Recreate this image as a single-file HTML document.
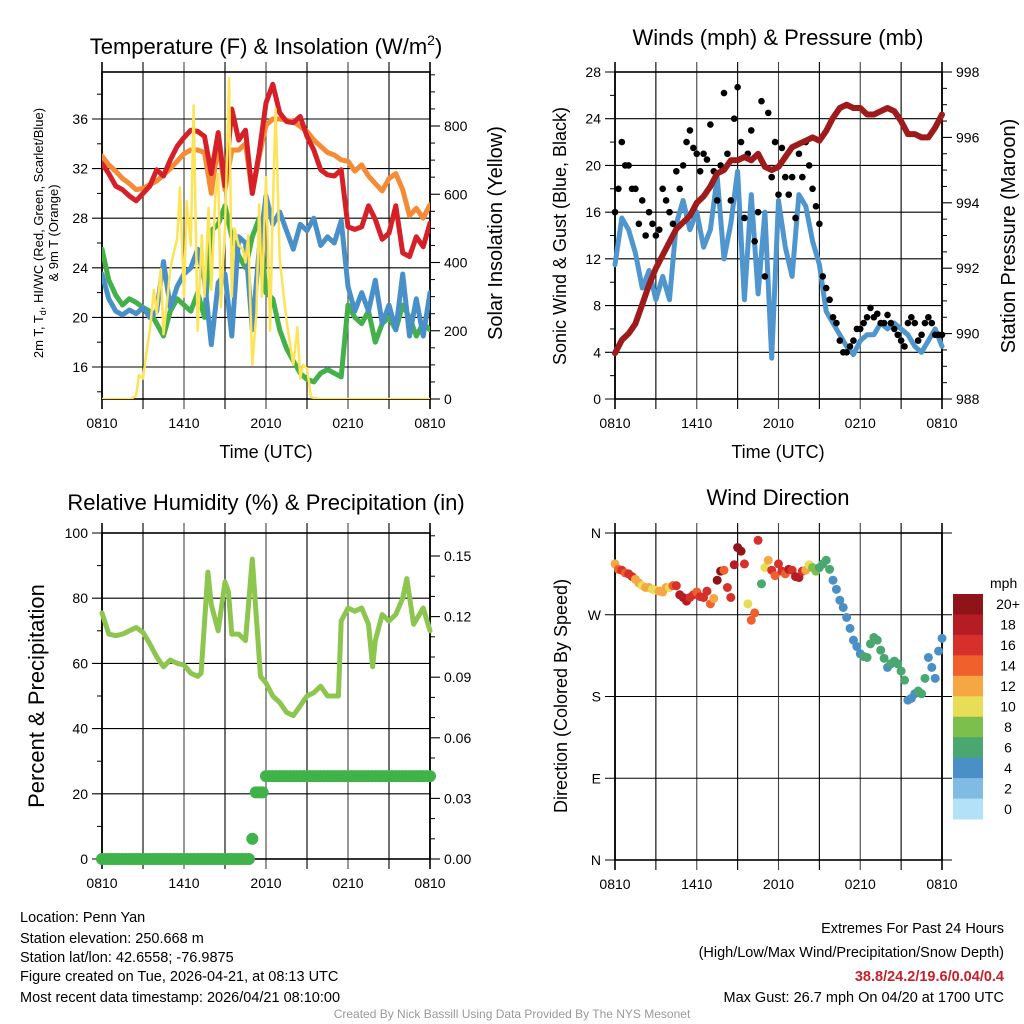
<!DOCTYPE html>
<html><head><meta charset="utf-8"><style>
html,body{margin:0;padding:0;background:#fff;}
svg{display:block;font-family:"Liberation Sans",Arial,sans-serif;}
</style></head><body>
<svg id="s" width="1024" height="1024" viewBox="0 0 1024 1024" xmlns="http://www.w3.org/2000/svg">
<rect width="1024" height="1024" fill="#fff"/>
<g font-size="22" text-anchor="middle" fill="#000">
<text x="266" y="54">Temperature (F) &amp; Insolation (W/m<tspan dy="-9" font-size="14">2</tspan><tspan dy="9">)</tspan></text>
<text x="778" y="45">Winds (mph) &amp; Pressure (mb)</text>
<text x="266" y="510">Relative Humidity (%) &amp; Precipitation (in)</text>
<text x="778" y="505">Wind Direction</text>
</g>
<g font-size="18" text-anchor="middle">
<text x="266" y="458">Time (UTC)</text>
<text x="778" y="458">Time (UTC)</text>
<text transform="translate(43,233) rotate(-90)" font-size="13">2m T, T<tspan font-size="9" dy="3">d</tspan><tspan dy="-3">, HI/WC (Red, Green, Scarlet/Blue)</tspan></text>
<text transform="translate(58,233) rotate(-90)" font-size="13">&amp; 9m T (Orange)</text>
<text transform="translate(502,233) rotate(-90)" font-size="20">Solar Insolation (Yellow)</text>
<text transform="translate(566,236) rotate(-90)" font-size="18">Sonic Wind &amp; Gust (Blue, Black)</text>
<text transform="translate(1015,236) rotate(-90)" font-size="20">Station Pressure (Maroon)</text>
<text transform="translate(44,696) rotate(-90)" font-size="22">Percent &amp; Precipitation</text>
<text transform="translate(567,696) rotate(-90)" font-size="18">Direction (Colored By Speed)</text>
</g>
<g font-size="14.5" fill="#000">
<text x="20" y="922">Location: Penn Yan</text>
<text x="20" y="943">Station elevation: 250.668 m</text>
<text x="20" y="962">Station lat/lon: 42.6558; -76.9875</text>
<text x="20" y="981">Figure created on Tue, 2026-04-21, at 08:13 UTC</text>
<text x="20" y="1002">Most recent data timestamp: 2026/04/21 08:10:00</text>
<text x="1004" y="933" text-anchor="end">Extremes For Past 24 Hours</text>
<text x="1004" y="957" text-anchor="end">(High/Low/Max Wind/Precipitation/Snow Depth)</text>
<text x="1004" y="981" text-anchor="end" fill="#c8202a" font-weight="bold">38.8/24.2/19.6/0.04/0.4</text>
<text x="1004" y="1002" text-anchor="end">Max Gust: 26.7 mph On 04/20 at 1700 UTC</text>
<text x="512" y="1018" text-anchor="middle" font-size="12" fill="#999">Created By Nick Bassill Using Data Provided By The NYS Mesonet</text>
</g>
</svg>
<script>
// ---------- DATA ----------
const xTickLabels = ["0810","1410","2010","0210","0810"];
const hoursHalf = [0,0.5,1,1.5,2,2.5,3,3.5,4,4.5,5,5.5,6,6.5,7,7.5,8,8.5,9,9.5,10,10.5,11,11.5,12,12.5,13,13.5,14,14.5,15,15.5,16,16.5,17,17.5,18,18.5,19,19.5,20,20.5,21,21.5,22,22.5,23,23.5,24];
const tempRed = [32.4,31.6,30.6,30.3,29.8,29.4,30.0,30.6,31.9,31.4,32.7,33.8,34.5,35.1,35.0,34.6,31.6,34.9,30.6,36.8,34.3,35.1,30.0,33.3,37.3,38.8,36.5,35.8,35.7,36.2,34.6,33.5,31.9,31.5,31.4,31.9,27.3,27.1,27.3,29.0,27.9,26.3,26.8,29.0,25.2,24.9,26.5,25.7,27.6];
const tempOrange = [33.0,32.3,31.8,31.2,30.8,30.3,30.4,30.7,31.0,31.5,32.0,32.6,33.2,33.5,33.5,33.3,30.0,34.0,30.3,33.5,33.5,34.0,30.0,33.0,35.5,36.0,36.0,35.9,35.8,35.4,35.0,34.3,33.8,33.3,33.1,32.7,32.6,31.8,32.3,31.4,30.8,30.2,31.2,31.6,30.3,28.2,28.8,28.0,29.1];
const tempBlue = [23.5,21.5,20.5,20.2,20.6,20.3,20.8,20.0,20.5,24.5,20.8,22.5,23.5,24.0,25.5,23.0,17.8,22.8,23.5,18.5,26.5,26.0,19.0,25.5,29.8,27.5,28.5,27.0,25.5,27.5,27.0,28.0,25.8,26.5,26.0,27.8,22.5,20.5,22.0,20.5,23.0,19.5,21.0,19.0,23.5,18.5,21.5,18.5,22.0];
const dewGreen = [25.5,23.0,21.8,21.0,21.5,21.2,20.8,20.5,19.5,18.5,20.5,21.5,21.0,20.5,22.0,20.0,27.0,27.5,29.0,26.5,25.0,24.0,26.5,28.0,22.0,21.5,19.0,17.5,16.5,15.5,15.0,14.8,15.5,15.8,15.5,15.2,21.0,20.0,19.5,20.5,18.0,19.5,20.0,19.0,21.0,20.0,18.5,19.5,19.0];
const solarHours = [0,1,2,2.2,2.5,2.7,3,3.3,3.5,3.8,4,4.3,4.5,4.8,5,5.2,5.5,5.7,6,6.2,6.5,6.7,7,7.3,7.5,7.8,8,8.3,8.5,8.7,9,9.3,9.5,9.7,10,10.3,10.5,10.7,11,11.3,11.5,11.7,12,12.3,12.5,12.7,13,13.3,13.5,13.8,14,14.3,14.5,14.7,15,15.3,16,20,24];
const solarValues = [0,0,0,2,10,70,60,150,200,320,250,380,190,300,380,420,470,620,300,580,450,860,200,480,300,560,320,600,660,270,500,940,300,500,450,440,400,480,100,250,570,300,650,200,560,850,410,300,230,150,100,210,60,100,90,5,0,0,0];
const windBlue = [11.5,15.5,14.5,12.5,9.5,11,8.5,10.5,8.5,15,17,14.5,16,13,14.5,19,12,15,19.5,8.5,17.5,9,16,3.5,17,13,10.5,17.5,16.5,13.5,11.5,7.5,6.5,5.5,4.5,3.8,5,5.5,5.5,6.5,6,6.5,6,5.5,4.5,4,5,6,4.5];
const pressure = [989.4,989.8,990.0,990.3,990.9,991.5,992.0,992.4,992.8,993.2,993.4,993.6,994.0,994.2,994.5,994.9,995.0,995.3,995.3,995.4,995.3,995.5,995.1,995.0,995.1,995.4,995.7,995.8,995.9,996.0,995.9,996.2,996.6,996.9,997.0,996.9,996.9,996.7,996.7,996.8,996.9,996.8,996.5,996.1,996.1,996.0,996.0,996.3,996.7];
const gust = [16,18,22,20, 20,18,18,15, 17,14,16,15, 14,14.5,18,17, 16,15,19.5,18, 20,22,23,21.5, 21,19.5,21,20.5, 23.5,19.5,17,20, 26.2,21,17,24, 26.7,22,15.5,21, 23,13.5,16,25.5, 10.5,24.5,19,22, 17.5,21.5,19,17.5, 19,15.5,21,19, 22,20,18,16.5, 15,10.5,9.5,8.5, 7,6.5,5,4, 4,4.5,5,6, 6,6.5,7,7.8, 7,7.3,6.5,6.5, 7.2,6.5,6,5.5, 5,4.5,6.5,7, 6.5,5,5.5,6.5, 7,6.5,5.5,5.5, 5.5];
const rhHours = [0,0.5,1,1.5,2,2.5,3,3.5,4,4.5,5,5.5,6,6.5,7,7.25,7.75,8,8.5,9,9.25,9.5,10,10.5,11,11.3,11.6,12,12.5,13,13.5,14,14.5,15,15.5,16,16.5,17.3,17.5,18,18.5,19,19.5,19.8,20,20.5,21,21.5,22,22.3,22.8,23.5,24];
const rhValues = [75.5,69,68.5,69,70,71,69.5,66,62,59,61,60,59.5,57,56,57,88,78,70,85,82,69,69,67,92,74,56,54,50,48,45,44,47,50,51,53,50,50,73,77,76,77,72,59,67,75,73,75,80,86,72,77,70];
const precip = [0,0,0,0,0,0,0,0,0,0,0,0,0,0,0,0,0,0,0,0,0,0,0,0,0,0,0,0,0,0,0,0,0,0,0,0,0,0,0,0,0,0,0,0,0.01,0.033,0.033,0.033,0.041,0.041,0.041,0.041,0.041,0.041,0.041,0.041,0.041,0.041,0.041,0.041,0.041,0.041,0.041,0.041,0.041,0.041,0.041,0.041,0.041,0.041,0.041,0.041,0.041,0.041,0.041,0.041,0.041,0.041,0.041,0.041,0.041,0.041,0.041,0.041,0.041,0.041,0.041,0.041,0.041,0.041,0.041,0.041,0.041,0.041,0.041,0.041,0.041];
const dirHours = [0,0.25,0.5,0.75,1,1.25,1.5,1.75,2,2.25,2.5,2.75,3,3.25,3.5,3.75,4,4.25,4.5,4.75,5,5.25,5.5,5.75,6,6.25,6.5,6.75,7,7.25,7.5,7.75,8,8.25,8.5,8.75,9,9.25,9.5,9.75,10,10.25,10.5,10.75,11,11.25,11.5,11.75,12,12.25,12.5,12.75,13,13.25,13.5,13.75,14,14.25,14.5,14.75,15,15.25,15.5,15.75,16,16.25,16.5,16.75,17,17.25,17.5,17.75,18,18.25,18.5,18.75,19,19.25,19.5,19.75,20,20.25,20.5,20.75,21,21.25,21.5,21.75,22,22.25,22.5,22.75,23,23.25,23.5,23.75,24];
const dirDeg = [326,320,319,316,315,312,309,305,302,300,300,298,297,296,295,300,300,302,302,292,289,285,289,292,295,290,289,296,282,288,308,318,319,300,289,325,344,340,326,282,264,272,352,304,322,330,319,313,326,318,315,320,319,312,311,318,319,325,322,318,322,326,330,320,308,298,286,278,267,255,242,235,227,224,223,238,245,242,231,222,212,216,219,216,208,198,176,178,183,186,183,200,223,212,200,230,244];
const dirSpeed = [12,13,16,14,16,15,12,11,10,11,11,10,10,12,12,12,10,14,16,17,18,17,16,15,14,15,16,15,14,12,20,19,14,16,16,18,20,19,16,10,14,14,16,6,10,11,16,14,16,15,14,17,16,17,18,16,12,10,8,7,6,6,6,5,4,4,4,4,4,4,4,4,4,5,6,6,6,6,6,5,4,5,6,6,6,5,4,4,4,5,6,5,4,4,4,4,4];
const speedBinLabels = ["0","2","4","6","8","10","12","14","16","18","20+"];
const speedBinColors = ["#b3e1f7","#7fbbe3","#4a8fc6","#4aa770","#7cc04b","#e8dd56","#f6a742","#f0602c","#d7302a","#b51c23","#8e1418"];

// ---------- HELPERS ----------
const svg = document.getElementById('s');
const NS = "http://www.w3.org/2000/svg";
function mk(tag, attrs, parent) {
  const e = document.createElementNS(NS, tag);
  for (const k in attrs) e.setAttribute(k, attrs[k]);
  (parent || svg).appendChild(e);
  return e;
}
function linScale(d0, d1, r0, r1) { return v => r0 + (v - d0) * (r1 - r0) / (d1 - d0); }

function panelFrame(name, L, R, T, B, yTicksL, yMinorL, yScaleL, yLabelL, yTicksR, yMinorR, yScaleR, yLabelR) {
  const g = mk('g', {});
  
  
  const xs = linScale(0, 24, L, R);
  // vertical grid lines every 3h with ticks beyond box
  for (let h = 0; h <= 24; h += 3) {
    const x = xs(h);
    const ln = mk('line', {x1: x, x2: x, y1: T - 10, y2: B + 10, stroke: (h % 6 === 0 && h > 0 && h < 24) ? '#444' : '#000', 'stroke-width': (h === 0 || h === 24) ? 1.6 : 1.1}, g);
    
    
  }
  for (let i = 0; i < xTickLabels.length; i++) {
    const t = mk('text', {x: xs(i * 6), y: B + 29, 'font-size': 14, 'text-anchor': 'middle'}, g);
    t.textContent = xTickLabels[i];
    
    
  }
  if (yTicksL) {
    yTicksL.forEach((v, i) => {
      const y = yScaleL(v);
      const ln = mk('line', {x1: L - 10, x2: R + (yTicksR ? 0 : 10), y1: y, y2: y, stroke: '#000', 'stroke-width': 1.1}, g);
      
      
      const t = mk('text', {x: L - 14, y: y + 5, 'font-size': 14, 'text-anchor': 'end'}, g);
      t.textContent = yLabelL[i];
      
      
    });
    yMinorL.forEach(v => { const y = yScaleL(v); mk('line', {x1: L - 5, x2: L, y1: y, y2: y, stroke: '#000'}, g); });
  }
  if (yTicksR) {
    yTicksR.forEach((v, i) => {
      const y = yScaleR(v);
      mk('line', {x1: R, x2: R + 10, y1: y, y2: y, stroke: '#000', 'stroke-width': 1.1}, g);
      const t = mk('text', {x: R + 14, y: y + 5, 'font-size': 14}, g);
      t.textContent = yLabelR[i];
      
      
    });
    yMinorR.forEach(v => { const y = yScaleR(v); mk('line', {x1: R, x2: R + 5, y1: y, y2: y, stroke: '#000'}, g); });
  }
  mk('rect', {x: L, y: T, width: R - L, height: B - T, fill: 'none', stroke: '#000', 'stroke-width': 1.6}, g);
  return xs;
}
function polyline(name, xs, ys, hs, vs, color, w) {
  const pts = hs.map((h, i) => xs(h).toFixed(1) + ',' + ys(vs[i]).toFixed(1)).join(' ');
  const p = mk('polyline', {points: pts, fill: 'none', stroke: color, 'stroke-width': w, 'stroke-linejoin': 'round', 'stroke-linecap': 'round'});
  
  
  return p;
}

// ---------- PANEL 1: Temperature ----------
{
  const L = 102, R = 430, T = 72, B = 399;
  const yL = linScale(16, 36, 367, 119);
  const yR = linScale(0, 800, 399, 126);
  const xs = panelFrame('temperature', L, R, T, B, [16,20,24,28,32,36], [14,18,22,26,30,34,38], yL, ["16","20","24","28","32","36"], [0,200,400,600,800], [50,100,150,250,300,350,450,500,550,650,700,750,850,900,950], yR, ["0","200","400","600","800"]);
  const clip = mk('clipPath', {id: 'c1'}); mk('rect', {x: L, y: T, width: R - L, height: B - T}, clip);
  const g = mk('g', {'clip-path': 'url(#c1)'});
  g.appendChild(polyline('dewpoint-line', xs, yL, hoursHalf, dewGreen, '#43b049', 5));
  g.appendChild(polyline('windchill-line', xs, yL, hoursHalf, tempBlue, '#4a90c8', 5));
  g.appendChild(polyline('temp-9m-line', xs, yL, hoursHalf, tempOrange, '#f58b35', 5));
  g.appendChild(polyline('temp-2m-line', xs, yL, hoursHalf, tempRed, '#d62027', 5));
  g.appendChild(polyline('solar-line', xs, yR, solarHours, solarValues, '#fde356', 2.5));
}

// ---------- PANEL 2: Winds ----------
{
  const L = 615, R = 942, T = 72, B = 399;
  const yL = linScale(0, 28, 399, 72);
  const yR = linScale(988, 998, 399, 72);
  const xs = panelFrame('winds', L, R, T, B, [0,4,8,12,16,20,24,28], [2,6,10,14,18,22,26], yL, ["0","4","8","12","16","20","24","28"], [988,990,992,994,996,998], [988.5,989,989.5,990.5,991,991.5,992.5,993,993.5,994.5,995,995.5,996.5,997,997.5], yR, ["988","990","992","994","996","998"]);
  const g = mk('g', {});
  g.appendChild(polyline('wind-speed-line', xs, yL, hoursHalf, windBlue, '#4f96cf', 5));
  gust.forEach((v, i) => {
    const c = mk('circle', {cx: xs(i * 0.25), cy: yL(v), r: 3.3, fill: '#000'}, g);
    
    
  });
  g.appendChild(polyline('pressure-line', xs, yR, hoursHalf, pressure, '#9e1b1b', 6));
}

// ---------- PANEL 3: RH & Precip ----------
{
  const L = 102, R = 430, T = 533, B = 859;
  const yL = linScale(0, 100, 859, 533);
  const yR = linScale(0, 0.15, 859, 556);
  const xs = panelFrame('humidity', L, R, T, B, [0,20,40,60,80,100], [10,30,50,70,90], yL, ["0","20","40","60","80","100"], [0,0.03,0.06,0.09,0.12,0.15], [0.01,0.02,0.04,0.05,0.07,0.08,0.10,0.11,0.13,0.14,0.16], yR, ["0.00","0.03","0.06","0.09","0.12","0.15"]);
  const g = mk('g', {});
  g.appendChild(polyline('humidity-line', xs, yL, rhHours, rhValues, '#8dc64f', 5));
  precip.forEach((v, i) => {
    const c = mk('circle', {cx: xs(i * 0.25), cy: yR(v), r: 6, fill: '#3fb34a'}, g);
    
    
  });
}

// ---------- PANEL 4: Wind direction ----------
{
  const L = 615, R = 942, T = 533, B = 860;
  const yD = linScale(0, 360, 860, 533);
  const xs = panelFrame('direction', L, R, T, B, [0,90,180,270,360], [], yD, ["N","E","S","W","N"], null, null, null, null);
  const g = mk('g', {});
  dirHours.forEach((h, i) => {
    const idx = Math.min(10, Math.max(0, Math.floor((dirSpeed[i] + 1) / 2)));
    const c = mk('circle', {cx: xs(h), cy: yD(dirDeg[i]), r: 4.5, fill: speedBinColors[idx]}, g);
    
    
  });
  // colorbar
  const cb = mk('g', {});
  
  
  const cbT = 594, cbH = 225 / 11;
  const tt = mk('text', {x: 990, y: 588, 'font-size': 14}, cb);
  tt.textContent = 'mph';
  
  
  for (let k = 0; k < 11; k++) {
    const idx = 10 - k;
    mk('rect', {x: 953, y: cbT + k * cbH, width: 30, height: cbH + 0.5, fill: speedBinColors[idx]}, cb);
    const t = mk('text', {x: 1008, y: cbT + k * cbH + cbH / 2 + 5, 'font-size': 14, 'text-anchor': 'middle'}, cb);
    t.textContent = speedBinLabels[idx];
    
    
  }
}
</script>
</body></html>
